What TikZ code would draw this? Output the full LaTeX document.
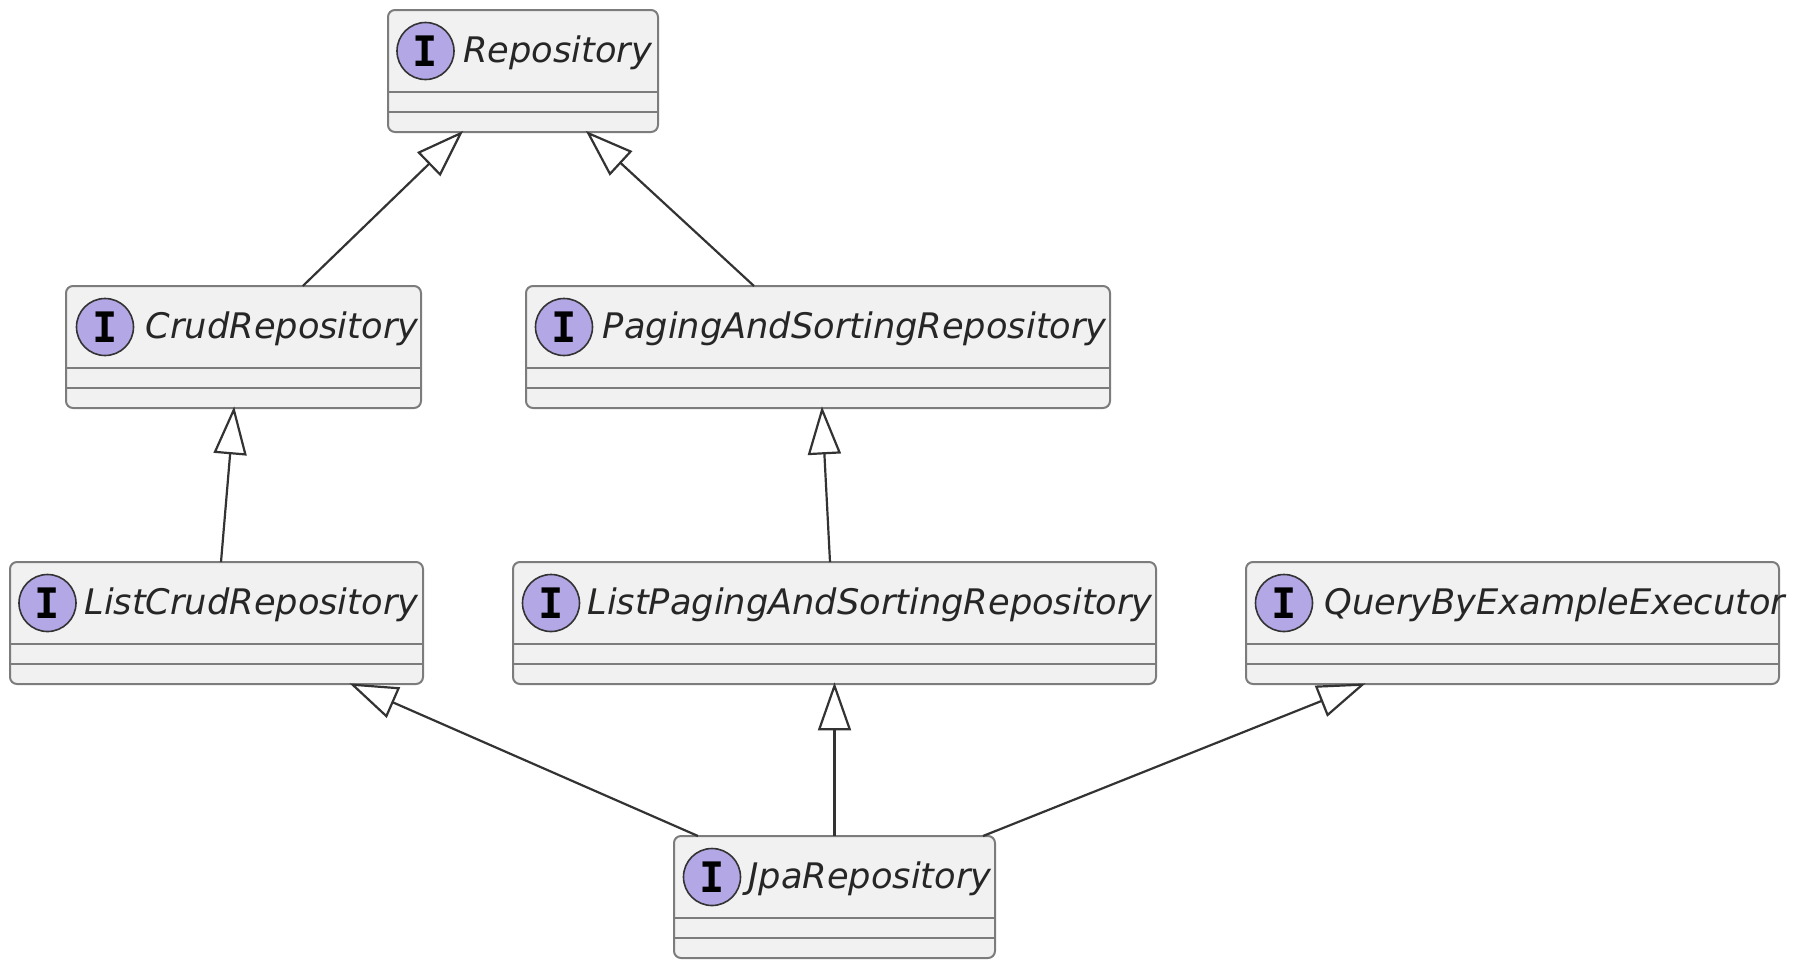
\documentclass[tikz,border=0pt]{standalone}
\usepackage{fontspec}
\setmainfont{DejaVu Sans}
\newfontfamily\spotfont{DejaVu Sans Mono}
\usetikzlibrary{arrows.meta,positioning,calc}
\definecolor{boxfill}{HTML}{F1F1F1}
\definecolor{boxline}{HTML}{7C7C7C}
\definecolor{spotfill}{HTML}{B4A7E5}
\definecolor{edgeline}{HTML}{333333}
\tikzset{
  ifacebox/.style={draw=boxline,fill=boxfill,line width=1pt,rounded corners=3.5pt,inner sep=0pt,outer sep=0pt,anchor=north west},
  spot/.style={circle,draw=edgeline,fill=spotfill,line width=0.8pt,minimum size=28.5pt,inner sep=0pt},
  ifacename/.style={anchor=base west,inner sep=0pt,font=\fontsize{17.6}{20}\selectfont\itshape,text=black!85},
  sepline/.style={draw=boxline,line width=0.9pt},
  extends/.style={draw=edgeline,line width=1.1pt,shorten >=-0.8pt,-{Triangle[open,fill=white,length=24pt,width=16.5pt]}},
}
% name, left, right, top, spot inset, text inset, text
\def\iface#1#2#3#4#5#6#7{
  \node[ifacebox,minimum width={(#3-#2)*0.5pt},minimum height=61pt] (#1) at (#2,#4) {};
  \draw[sepline] ($(#1.north west)+(0,82)$) -- ($(#1.north east)+(0,82)$);
  \draw[sepline] ($(#1.north west)+(0,102)$) -- ($(#1.north east)+(0,102)$);
  \node[spot] (#1spot) at ($(#1.north west)+(37+#5,41)$) {\spotfont\bfseries\fontsize{21}{21}\selectfont I};
  \node[ifacename] (#1name) at ($(#1.north west)+(73+#6,52)$) {#7};
}
\begin{document}
\begin{tikzpicture}[x=0.5pt,y=-0.5pt]
\useasboundingbox (0,0) rectangle (1794,960);
\iface{repo}{388}{658}{10}{0.5}{2}{Repository}
\iface{crud}{66}{421}{286}{2}{6.5}{CrudRepository}
\iface{paging}{526}{1110}{286}{1}{3.5}{PagingAndSortingRepository}
\iface{listcrud}{10}{423}{562}{0.5}{1}{ListCrudRepository}
\iface{listpaging}{513}{1156}{562}{1}{1}{ListPagingAndSortingRepository}
\iface{query}{1246}{1779}{562}{1}{5}{QueryByExampleExecutor}
\iface{jpa}{674}{995}{836}{1}{1}{JpaRepository}
%% extends
\draw[extends] ([xshift=118.4pt]crud.north west) -- ([xshift=37pt]repo.south west);
\draw[extends] ([xshift=114pt]paging.north west) -- ([xshift=99.5pt]repo.south west);
\draw[extends] ([xshift=105.5pt]listcrud.north west) -- ([xshift=84pt]crud.south west);
\draw[extends] ([xshift=158.5pt]listpaging.north west) -- ([xshift=148pt]paging.south west);
\draw[extends] ([xshift=12pt]jpa.north west) -- ([xshift=170.5pt]listcrud.south west);
\draw[extends] (jpa.north) -- (listpaging.south);
\draw[extends] ([xshift=-6pt]jpa.north east) -- ([xshift=59pt]query.south west);
\end{tikzpicture}
\end{document}
